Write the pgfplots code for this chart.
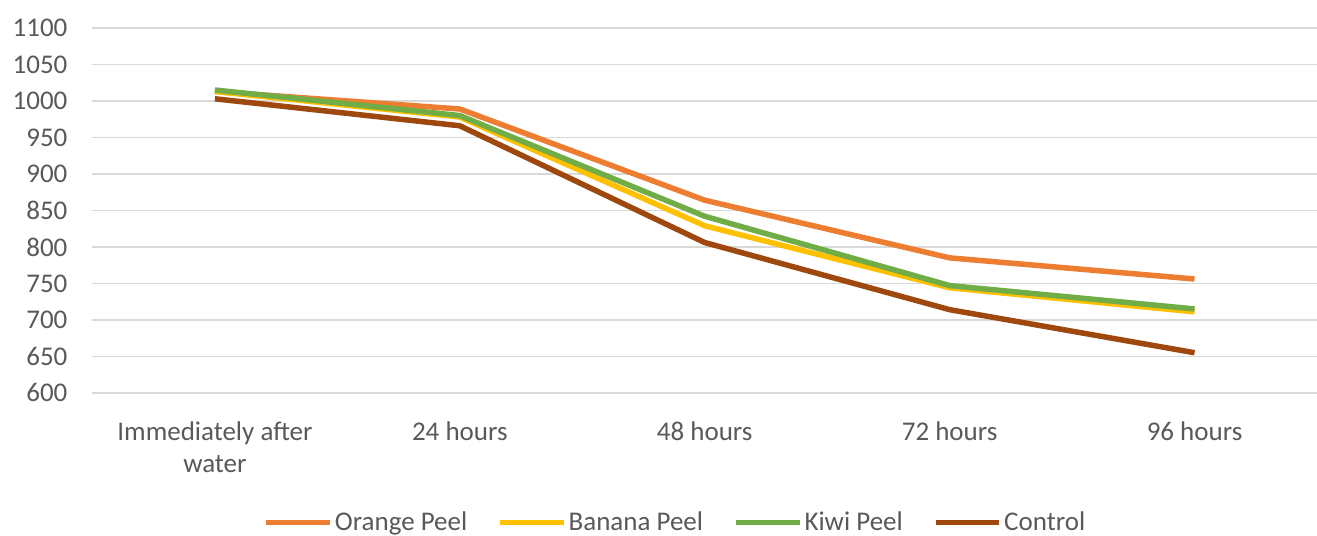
\documentclass[border=0pt]{standalone}
\usepackage{pgfplots}
\pgfplotsset{compat=1.18}
\usepackage{fontspec}
\setmainfont{Carlito}

\definecolor{orangepeel}{HTML}{ED7D31}
\definecolor{bananapeel}{HTML}{FFC000}
\definecolor{kiwipeel}{HTML}{70AD47}
\definecolor{control}{HTML}{9E480E}
\definecolor{gridgray}{HTML}{D9D9D9}
\definecolor{labelgray}{HTML}{595959}

\begin{document}
\begin{tikzpicture}
\begin{axis}[
  at={(0,0)}, anchor=south west,
  scale only axis,
  width=612.5pt, height=182.5pt,
  xmin=-0.5, xmax=4.5,
  ymin=600, ymax=1100,
  xtick={0,1,2,3,4},
  xticklabels={{Immediately after\\water},24 hours,48 hours,72 hours,96 hours},
  ytick={600,650,...,1100},
  axis line style={draw=none},
  tick style={draw=none},
  ymajorgrids,
  grid style={gridgray, line width=0.75pt},
  font=\fontsize{13.5}{16}\selectfont,
  tick label style={text=labelgray},
  xticklabel style={align=center, yshift=-11pt},
  yticklabel style={xshift=-9pt},
  /pgf/number format/assume math mode=true,
  /pgf/number format/1000 sep={},
  legend columns=4,
  legend style={
    at={(0.476,-0.356)}, anchor=center,
    draw=none, fill=none,
    font=\fontsize{13.5}{16}\selectfont\color{labelgray},
    /tikz/every even column/.append style={column sep=14pt},
    nodes={inner xsep=1pt},
    inner sep=0pt,
  },
  legend cell align=left,
  legend image code/.code={\draw[#1, line width=2.75pt] (0pt,0pt) -- (32pt,0pt);},
  every axis plot/.append style={line width=2.75pt, line join=round, mark=none},
]
\addplot[orangepeel] coordinates {(0,1013) (1,989) (2,864) (3,785) (4,756)};
\addlegendentry{Orange Peel}
\addplot[bananapeel] coordinates {(0,1013) (1,978) (2,829) (3,744) (4,711)};
\addlegendentry{Banana Peel}
\addplot[kiwipeel] coordinates {(0,1015) (1,980) (2,842) (3,747) (4,715)};
\addlegendentry{Kiwi Peel}
\addplot[control] coordinates {(0,1003) (1,966) (2,806) (3,714) (4,655)};
\addlegendentry{Control}
\end{axis}
\pgfresetboundingbox
\path[use as bounding box] (-46.25pt,-71.5pt) rectangle (612.5pt,196.5pt);
\end{tikzpicture}
\end{document}
